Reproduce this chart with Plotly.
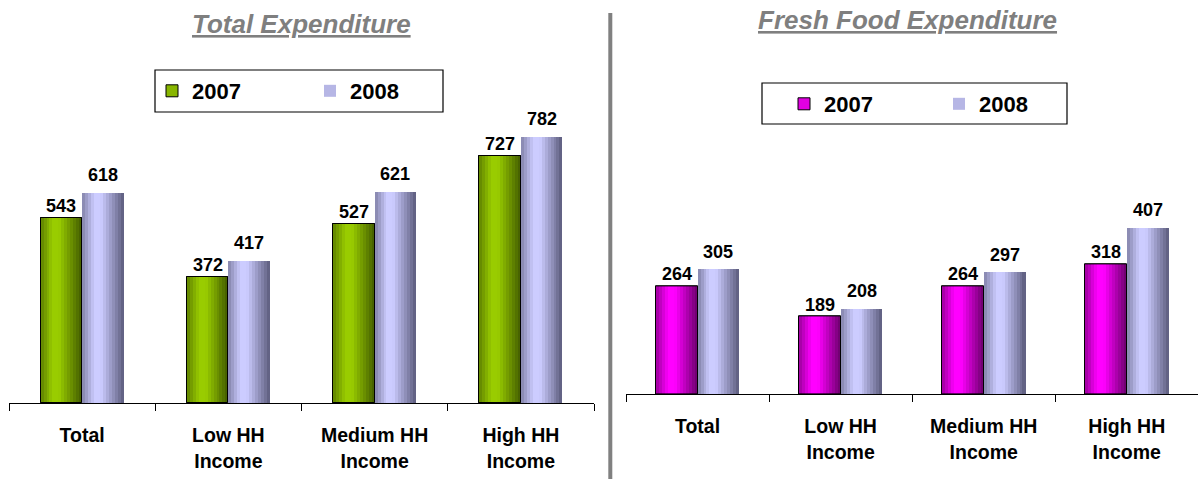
import plotly.graph_objects as go

categories = ["Total", "Low HH<br>Income", "Medium HH<br>Income", "High HH<br>Income"]
series_names = ["2007", "2008"]
total_2007 = [543, 372, 527, 727]
total_2008 = [618, 417, 621, 782]
fresh_2007 = [264, 189, 264, 318]
fresh_2008 = [305, 208, 297, 407]

W, H = 1199, 479
FONT = "Arial, Liberation Sans, sans-serif"

# gradient palettes (light, dark)
GREEN = ((153, 204, 0), (66, 92, 0))
LAV = ((204, 204, 255), (92, 92, 124))
MAG = ((255, 0, 255), (105, 0, 105))
NSTRIP = 14


def prof(t):
    pts = [(0.0, 0.35), (0.3, 1.0), (0.45, 1.0), (1.0, 0.0)]
    for (a, pa), (b, pb) in zip(pts[:-1], pts[1:]):
        if a <= t <= b:
            return pa + (pb - pa) * (t - a) / (b - a)
    return 0.0


def mix(pal, p):
    (l, d) = pal
    c = [round(d[i] + (l[i] - d[i]) * p) for i in range(3)]
    return "rgb(%d,%d,%d)" % tuple(c)


fig = go.Figure()


def add_series(vals, name, pal, xa, ya, offset, bw, legend, outline, gap):
    # base trace (legend entry)
    fig.add_trace(go.Bar(
        x=categories, y=vals, name=name, xaxis=xa, yaxis=ya,
        offset=offset, width=bw, legend=legend,
        marker=dict(color=mix(pal, 0.8),
                    line=dict(color="black", width=1 if outline else 0)),
        hoverinfo="x+y",
    ))
    # gradient strips
    sw = bw / NSTRIP
    for j in range(NSTRIP):
        t = (j + 0.5) / NSTRIP
        fig.add_trace(go.Bar(
            x=categories, y=vals, xaxis=xa, yaxis=ya,
            offset=offset + j * sw, width=sw * 1.02, showlegend=False,
            marker=dict(color=mix(pal, prof(t)), line=dict(width=0)),
            hoverinfo="skip",
        ))
    if outline:
        fig.add_trace(go.Bar(
            x=categories, y=vals, xaxis=xa, yaxis=ya,
            offset=offset, width=bw, showlegend=False,
            marker=dict(color="rgba(0,0,0,0)", line=dict(color="black", width=1)),
            hoverinfo="skip",
        ))
    for i, v in enumerate(vals):
        fig.add_annotation(
            x=i + offset + bw / 2, y=v, xref=xa, yref=ya,
            text=str(v), showarrow=False, yanchor="bottom", yshift=gap,
            font=dict(family=FONT, size=18, color="black", weight="bold"),
        )


BWL, BWR = 0.284, 0.292
add_series(total_2007, series_names[0], GREEN, "x", "y", -BWL, BWL, "legend", True, 0)
add_series(total_2008, series_names[1], LAV, "x", "y", 0, BWL, "legend", False, 6)
add_series(fresh_2007, series_names[0], MAG, "x2", "y2", -BWR, BWR, "legend2", True, 0)
add_series(fresh_2008, series_names[1], LAV, "x2", "y2", 0, BWR, "legend2", False, 6)

xcommon = dict(
    type="category", range=[-0.5, 3.5], showline=True, linecolor="black", linewidth=1,
    ticks="outside", tickson="boundaries", ticklen=7, tickcolor="black", tickwidth=1,
    showgrid=False, zeroline=False, fixedrange=True, ticklabelstandoff=15,
    tickfont=dict(family=FONT, size=19.5, color="black", weight="bold"),
)
ycommon = dict(visible=False, showgrid=False, zeroline=False, fixedrange=True)

legcommon = dict(
    orientation="h", bgcolor="rgba(0,0,0,0)", borderwidth=0,
    font=dict(family=FONT, size=22, color="black", weight="bold"),
    xanchor="left", yanchor="middle", entrywidthmode="pixels",
)

fig.update_layout(
    width=W, height=H, margin=dict(l=0, r=0, t=0, b=0),
    paper_bgcolor="white", plot_bgcolor="white",
    barmode="overlay", bargap=0, showlegend=True,
    xaxis=dict(domain=[9 / W, 594 / W], anchor="y", **xcommon),
    yaxis=dict(domain=[(H - 403) / H, (H - 97) / H], range=[0, 900], anchor="x", **ycommon),
    xaxis2=dict(domain=[626 / W, 1198.3 / W], anchor="y2", **xcommon),
    yaxis2=dict(domain=[(H - 394) / H, (H - 108.4) / H], range=[0, 700], anchor="x2", **ycommon),
    legend=dict(x=152 / W, y=1 - 91 / H, entrywidth=113, **legcommon),
    legend2=dict(x=784 / W, y=1 - 104 / H, entrywidth=110, **legcommon),
    shapes=[
        dict(type="rect", xref="paper", yref="paper",
             x0=155 / W, x1=443 / W, y0=1 - 70 / H, y1=1 - 112 / H,
             line=dict(color="black", width=1.2), fillcolor="white", layer="below"),
        dict(type="rect", xref="paper", yref="paper",
             x0=762 / W, x1=1067 / W, y0=1 - 83 / H, y1=1 - 124 / H,
             line=dict(color="black", width=1.2), fillcolor="white", layer="below"),
        dict(type="line", xref="paper", yref="paper",
             x0=610.3 / W, x1=610.3 / W, y0=0, y1=1 - 13 / H,
             line=dict(color="#808080", width=4)),
    ],
)

title_font = dict(family=FONT, size=26, color="#7f7f7f", weight="bold", style="italic",
                  lineposition="under")
fig.add_annotation(text="Total Expenditure", xref="paper", yref="paper",
                   x=301 / W, y=1 - 24 / H, xanchor="center", yanchor="middle",
                   showarrow=False, font=title_font)
fig.add_annotation(text="Fresh Food Expenditure", xref="paper", yref="paper",
                   x=907 / W, y=1 - 20 / H, xanchor="center", yanchor="middle",
                   showarrow=False, font=title_font)

fig.write_html("out.html")
